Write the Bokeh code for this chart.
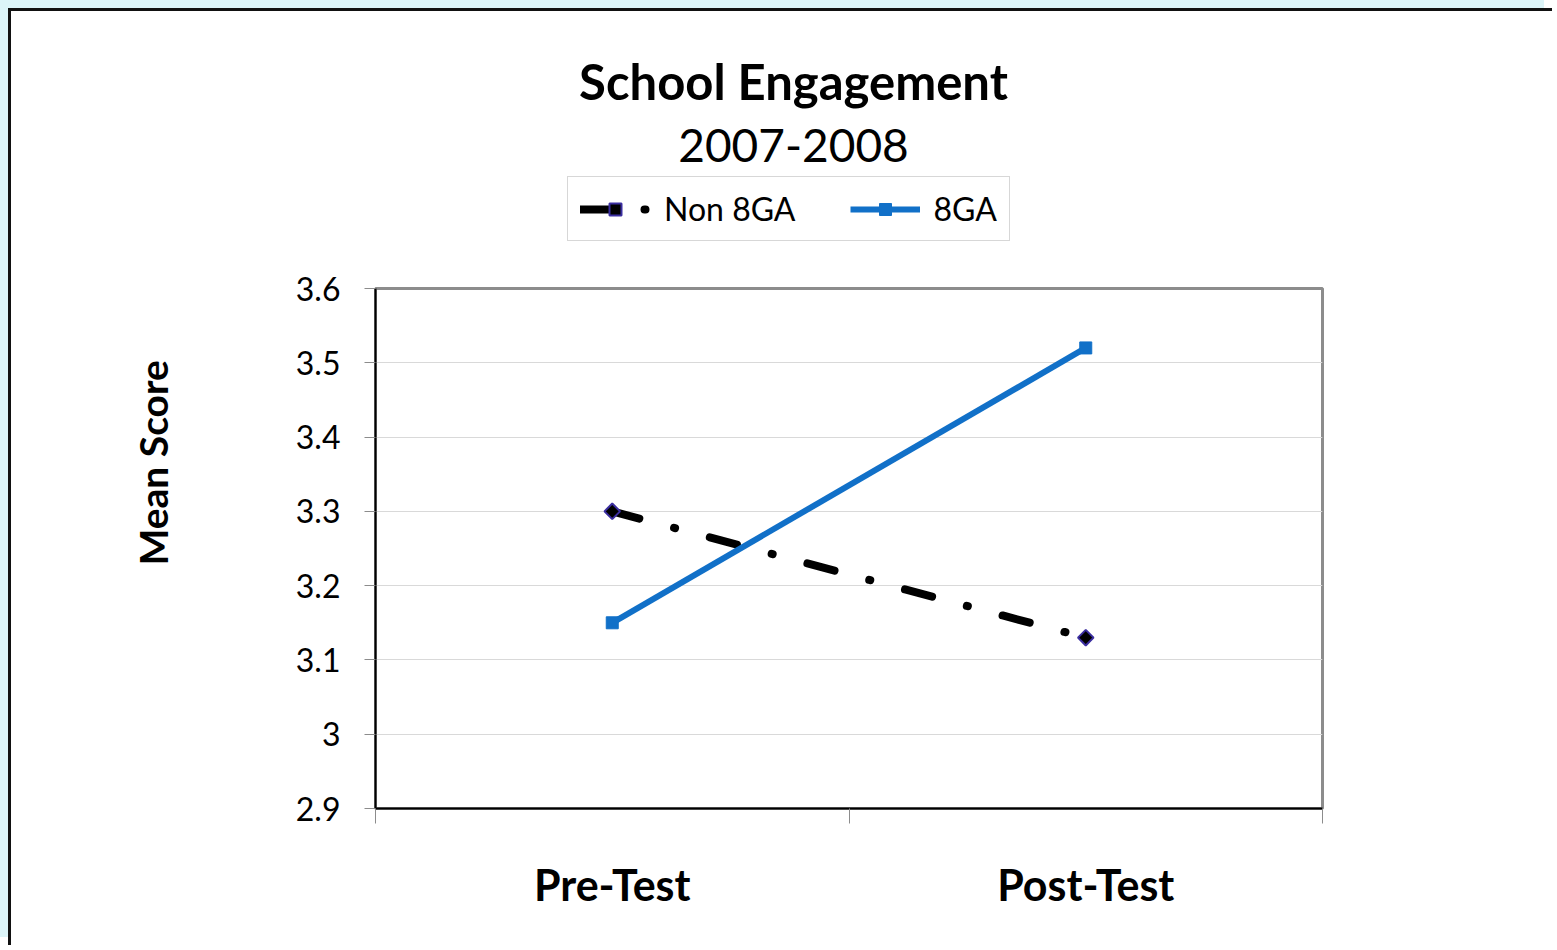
from bokeh.plotting import figure
from bokeh.layouts import column
from bokeh.models import Range1d, FixedTicker, Label, Legend, LegendItem, Title
from bokeh.embed import file_html
from bokeh.resources import INLINE

# ---- data ----
categories = ["Pre-Test", "Post-Test"]
non_8ga = [3.30, 3.13]
ga_8 = [3.15, 3.52]
series_names = ["Non 8GA", "8GA"]
y_ticks = [2.9, 3.0, 3.1, 3.2, 3.3, 3.4, 3.5, 3.6]
y_tick_labels = ["2.9", "3", "3.1", "3.2", "3.3", "3.4", "3.5", "3.6"]
title_text = "School Engagement"
subtitle_text = "2007-2008"
y_label = "Mean Score"

FONT = "Lato"
BLUE = "#1170C8"
DASH = "28 36 1 36"

x_pos = [i + 0.5 for i in range(len(categories))]

W = 1544
HEAD_H = 252
MAIN_H = 685
BL, BR = 364, W - 1311
FRAME_W = W - BL - BR

# ---------------- header (titles + legend) ----------------
head = figure(width=W, height=HEAD_H, output_backend="svg", toolbar_location=None,
              x_range=Range1d(0, FRAME_W), y_range=Range1d(HEAD_H, 0),
              x_axis_location=None, y_axis_location=None,
              min_border_left=BL, min_border_right=BR, min_border_top=0, min_border_bottom=0)
head.grid.visible = False
head.outline_line_color = None
head.background_fill_color = "white"
head.border_fill_color = "white"

head.add_layout(Label(x=418, y=69, text=title_text,
                      text_align="center", text_baseline="middle", text_font=FONT,
                      text_font_size="49px", text_font_style="bold", text_color="black"))
head.add_layout(Label(x=418, y=134, text=subtitle_text,
                      text_align="center", text_baseline="middle", text_font=FONT,
                      text_font_size="46px", text_color="black"))

# legend proxies: same series drawn on a range that keeps them out of view
head.extra_y_ranges = {"hidden": Range1d(100, 200)}
h1 = head.line(x_pos, non_8ga, y_range_name="hidden", line_color="black", line_width=8,
               line_dash=DASH, line_cap="round")
hm1 = head.scatter(x_pos, non_8ga, y_range_name="hidden", marker="square", angle=0.785398,
                   size=11, fill_color="black", line_color="#3b2ea0", line_width=2)
h2 = head.line(x_pos, ga_8, y_range_name="hidden", line_color=BLUE, line_width=6)
hm2 = head.scatter(x_pos, ga_8, y_range_name="hidden", marker="square", size=12,
                   fill_color=BLUE, line_color=BLUE)

legend = Legend(items=[LegendItem(label=series_names[0], renderers=[h1, hm1]),
                       LegendItem(label=series_names[1], renderers=[h2, hm2])],
                location=(192, 22), orientation="horizontal", margin=0,
                padding=12, spacing=54, glyph_width=70, glyph_height=30,
                label_height=30, label_standoff=14,
                label_text_font=FONT, label_text_font_size="32px", label_text_color="black",
                border_line_color="#b0b0b0", border_line_width=1.5,
                background_fill_color="white", background_fill_alpha=1)
head.add_layout(legend)

# ---------------- main chart ----------------
p = figure(width=W, height=MAIN_H, output_backend="svg", toolbar_location=None,
           x_range=Range1d(0, len(categories)), y_range=Range1d(y_ticks[0], y_ticks[-1]),
           min_border_left=BL, min_border_right=BR, min_border_top=25,
           min_border_bottom=MAIN_H - 545)
p.background_fill_color = "white"
p.border_fill_color = "white"
p.outline_line_color = "#8c8c8c"
p.outline_line_width = 3

p.xgrid.visible = False
p.ygrid.ticker = FixedTicker(ticks=y_ticks)
p.ygrid.grid_line_color = "#d9d9d9"
p.ygrid.grid_line_width = 1

ya = p.yaxis[0]
ya.ticker = FixedTicker(ticks=y_ticks)
ya.major_label_overrides = dict(zip(y_ticks, y_tick_labels))
ya.axis_line_color = "black"
ya.axis_line_width = 2
ya.major_tick_out = 11
ya.major_tick_in = 0
ya.major_tick_line_color = "#8c8c8c"
ya.minor_tick_line_color = None
ya.major_label_standoff = 24
ya.major_label_text_font = FONT
ya.major_label_text_font_size = "32px"
ya.major_label_text_color = "black"

# y-axis title, placed higher than the frame centre as in the original
p.add_layout(Title(text=y_label, align="left", offset=243, vertical_align="bottom",
                   standoff=233, text_font=FONT, text_font_size="39px",
                   text_font_style="bold", text_color="black"), "left")

xa = p.xaxis[0]
xa.ticker = FixedTicker(ticks=x_pos, minor_ticks=list(range(len(categories) + 1)))
xa.major_label_overrides = dict(zip(x_pos, categories))
xa.axis_line_color = "black"
xa.axis_line_width = 2
xa.major_tick_line_color = None
xa.major_tick_out = 0
xa.major_tick_in = 0
xa.minor_tick_out = 15
xa.minor_tick_in = 0
xa.minor_tick_line_color = "#8c8c8c"
xa.major_label_standoff = 35
xa.major_label_text_font = FONT
xa.major_label_text_font_size = "43px"
xa.major_label_text_font_style = "bold"
xa.major_label_text_color = "black"

p.line(x_pos, non_8ga, line_color="black", line_width=8, line_dash=DASH, line_cap="round")
p.scatter(x_pos, non_8ga, marker="square", angle=0.785398, size=11,
          fill_color="black", line_color="#3b2ea0", line_width=2)
p.line(x_pos, ga_8, line_color=BLUE, line_width=6)
p.scatter(x_pos, ga_8, marker="square", size=12, fill_color=BLUE, line_color=BLUE)

layout = column(head, p, spacing=0)
layout.styles = {"margin-left": "11px", "margin-top": "11px",
                 "box-shadow": "-3px -3px 0 0 #111111, -11px -11px 0 0 #dcf4f8"}

open("out.html", "w").write(file_html(layout, INLINE))
